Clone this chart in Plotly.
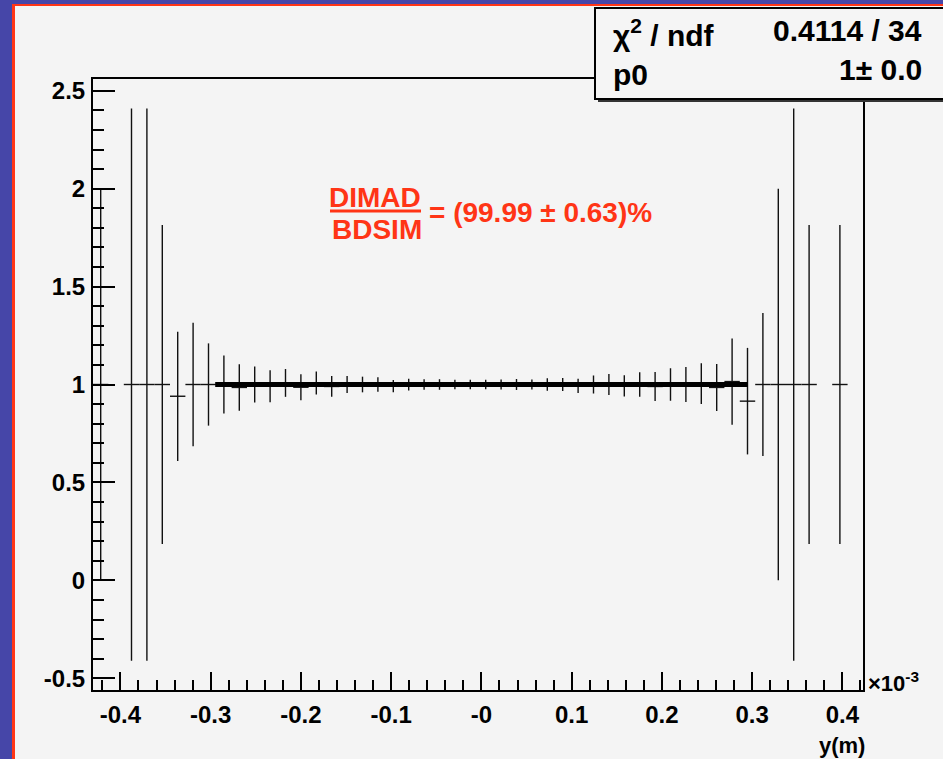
import plotly.graph_objects as go

# Histogram binning of the ratio plot (x in units of 1e-3 m)
X_LO = -0.4304
X_HI = 0.4228
N_BINS = 50

# Filled bins: index, ratio DIMAD/BDSIM, statistical error
bin_index = [0, 2, 3, 4, 5, 6, 7, 8, 9, 10, 11, 12, 13, 14, 15, 16, 17, 18, 19,
             20, 21, 22, 23, 24, 25, 26, 27, 28, 29, 30, 31, 32, 33, 34, 35, 36,
             37, 38, 39, 40, 41, 42, 43, 44, 45, 46, 48]
ratio = [1.0, 1.0, 1.0, 1.0, 0.94, 1.0, 1.0, 1.0, 0.985, 1.0, 0.991, 1.008, 0.986,
         1.008, 0.99, 1.0, 1.0, 1.0, 0.992, 1.0, 1.0, 1.0, 1.0, 1.0, 1.0, 1.0,
         1.0, 1.0, 1.0, 1.0, 0.993, 1.0, 1.0, 0.993, 1.0, 0.99, 1.0, 1.0, 1.005,
         0.985, 1.015, 0.915, 1.0, 1.0, 1.0, 1.0, 1.0]
ratio_err = [1.0, 1.41, 1.41, 0.815, 0.33, 0.315, 0.21, 0.148, 0.119, 0.092, 0.082,
             0.071, 0.066, 0.059, 0.053, 0.044, 0.040, 0.037, 0.031, 0.030, 0.027,
             0.027, 0.024, 0.024, 0.024, 0.025, 0.028, 0.026, 0.032, 0.033, 0.036,
             0.046, 0.054, 0.054, 0.063, 0.074, 0.083, 0.089, 0.104, 0.12, 0.22,
             0.272, 0.365, 1.0, 1.41, 0.815, 0.815]

# Constant fit p0 and its range
FIT_P0 = 1.0
FIT_P0_ERR = 0.0
FIT_RANGE = (-0.295, 0.295)
CHI2 = 0.4114
NDF = 34

# Summary of the ratio in percent
RATIO_PCT = 99.99
RATIO_PCT_ERR = 0.63

x_tick_vals = [-0.4, -0.3, -0.2, -0.1, 0.0, 0.1, 0.2, 0.3, 0.4]
x_tick_text = ["-0.4", "-0.3", "-0.2", "-0.1", "-0", "0.1", "0.2", "0.3", "0.4"]
y_tick_vals = [-0.5, 0, 0.5, 1, 1.5, 2, 2.5]
y_tick_text = ["-0.5", "0", "0.5", "1", "1.5", "2", "2.5"]

bin_w = (X_HI - X_LO) / N_BINS
bin_center = [X_LO + (i + 0.5) * bin_w for i in bin_index]

# Canvas geometry (pixels)
W, H = 943, 759
L, R, T, B = 93, 863, 79, 690
FONT = "Liberation Sans, Arial, sans-serif"
RED = "#ff3516"
BLUE = "#4646a8"


def px_x(px):
    return (px - L) / (R - L)


def px_y(py):
    return (B - py) / (B - T)


fig = go.Figure()

# Data points with bin-width horizontal bars and vertical error bars
fig.add_trace(go.Scatter(
    x=bin_center, y=ratio, mode="markers",
    marker=dict(size=0.1, color="black"),
    error_y=dict(type="data", array=ratio_err, symmetric=True,
                 color="#111111", thickness=1.4, width=0),
    error_x=dict(type="data", array=[bin_w / 2] * len(bin_center), symmetric=True,
                 color="#111111", thickness=1.4, width=0),
    showlegend=False, hoverinfo="skip",
))

# Fitted constant
fig.add_trace(go.Scatter(
    x=list(FIT_RANGE), y=[FIT_P0, FIT_P0], mode="lines",
    line=dict(color="black", width=5),
    showlegend=False, hoverinfo="skip",
))

shapes = [
    # canvas: red rim on the blue frame, light gray pad
    dict(type="rect", xref="paper", yref="paper", layer="below",
         x0=px_x(12), x1=px_x(1000), y0=px_y(4), y1=px_y(800),
         fillcolor=RED, line=dict(width=0)),
    dict(type="rect", xref="paper", yref="paper", layer="below",
         x0=px_x(15), x1=px_x(1000), y0=px_y(6), y1=px_y(800),
         fillcolor="#f4f4f4", line=dict(width=0)),
    # stats box with shadow
    dict(type="rect", xref="paper", yref="paper", layer="above",
         x0=px_x(598), x1=px_x(1000), y0=px_y(11), y1=px_y(102),
         fillcolor="#333333", line=dict(width=0)),
    dict(type="rect", xref="paper", yref="paper", layer="above",
         x0=px_x(595), x1=px_x(1000), y0=px_y(8), y1=px_y(99),
         fillcolor="#f5f5f5", line=dict(color="black", width=2)),
    # fraction bar of DIMAD / BDSIM
    dict(type="line", xref="paper", yref="paper", layer="above",
         x0=px_x(330), x1=px_x(421), y0=px_y(211), y1=px_y(211),
         line=dict(color=RED, width=3)),
]

STATS_FONT = dict(size=30, family=FONT, color="black", weight="bold")
annotations = [
    dict(text="χ<sup>2</sup> / ndf", x=px_x(611), y=px_y(33), xanchor="left",
         yanchor="middle", font=STATS_FONT),
    dict(text=f"{CHI2:.4f} / {NDF}", x=px_x(924), y=px_y(31), xanchor="right",
         yanchor="middle", font=STATS_FONT),
    dict(text="p0", x=px_x(611), y=px_y(75), xanchor="left",
         yanchor="middle", font=STATS_FONT),
    dict(text=f"{FIT_P0:.0f}± {FIT_P0_ERR:.1f}",
         x=px_x(924), y=px_y(69), xanchor="right",
         yanchor="middle", font=STATS_FONT),
    dict(text="<b>DIMAD</b>", x=px_x(375), y=px_y(197), xanchor="center",
         yanchor="middle", font=dict(size=28, family=FONT, color=RED)),
    dict(text="<b>BDSIM</b>", x=px_x(377), y=px_y(229), xanchor="center",
         yanchor="middle", font=dict(size=28, family=FONT, color=RED)),
    dict(text=f"<b>= ({RATIO_PCT:.2f} ± {RATIO_PCT_ERR:.2f})%</b>", x=px_x(427),
         y=px_y(213), xanchor="left", yanchor="middle",
         font=dict(size=28, family=FONT, color=RED)),
    dict(text="<b>×10<sup>-3</sup></b>", x=px_x(866), y=px_y(682), xanchor="left",
         yanchor="middle", font=dict(size=22, family=FONT, color="black")),
    dict(text="<b>y(m)</b>", x=px_x(867), y=px_y(745), xanchor="right",
         yanchor="middle", font=dict(size=22, family=FONT, color="black")),
]
for a in annotations:
    a.update(xref="paper", yref="paper", showarrow=False)

fig.update_layout(
    width=W, height=H,
    margin=dict(l=L, r=W - R, t=T, b=H - B, pad=0),
    paper_bgcolor=BLUE,
    plot_bgcolor="rgba(0,0,0,0)",
    shapes=shapes,
    annotations=annotations,
    font=dict(family=FONT, color="black"),
)

fig.update_xaxes(
    range=[X_LO, X_HI], showgrid=False, zeroline=False,
    showline=True, mirror=True, linecolor="black", linewidth=2,
    ticks="inside", ticklen=18, tickwidth=1.5, tickcolor="black",
    tickvals=x_tick_vals, ticktext=x_tick_text,
    tickfont=dict(size=24, family=FONT, weight="bold"),
    ticklabelstandoff=2,
    minor=dict(ticks="inside", ticklen=10, tickwidth=1.5, tickcolor="black",
               dtick=0.02, tick0=0, showgrid=False),
)
fig.update_yaxes(
    range=[-0.56, 2.56], showgrid=False, zeroline=False,
    showline=True, mirror=True, linecolor="black", linewidth=2,
    ticks="inside", ticklen=22, tickwidth=1.5, tickcolor="black",
    tickvals=y_tick_vals, ticktext=y_tick_text,
    tickfont=dict(size=24, family=FONT, weight="bold"),
    ticklabelstandoff=1,
    minor=dict(ticks="inside", ticklen=11, tickwidth=1.5, tickcolor="black",
               dtick=0.1, tick0=0, showgrid=False),
)

fig.write_html("out.html")
